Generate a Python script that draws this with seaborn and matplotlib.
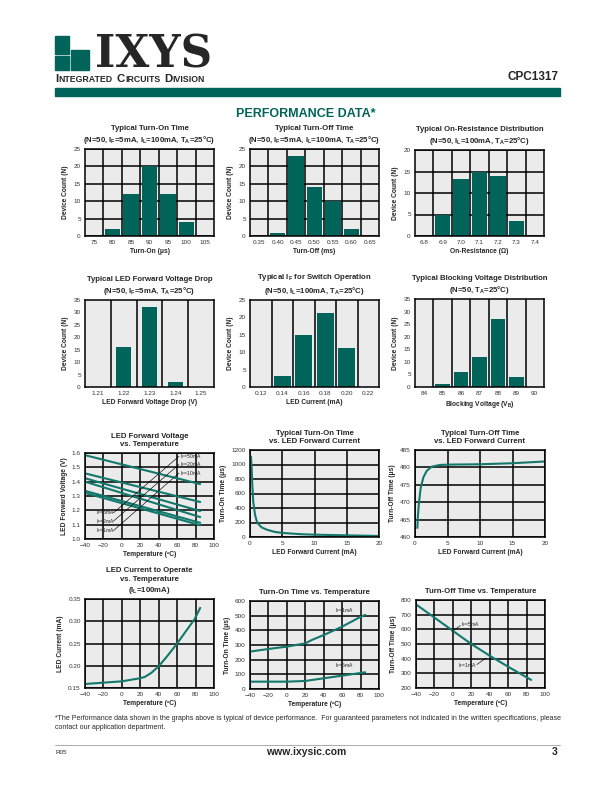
import numpy as np
import pandas as pd
import matplotlib
matplotlib.use("Agg")
import matplotlib.pyplot as plt
import seaborn as sns

sns.set_style("white")
plt.rcParams["font.family"] = ["Liberation Sans", "DejaVu Sans"]
plt.rcParams["mathtext.fontset"] = "custom"
plt.rcParams["mathtext.rm"] = "Liberation Sans"
plt.rcParams["mathtext.bf"] = "Liberation Sans:bold"

TEAL_BAR = "#00645a"
TEAL_LINE = "#12786c"
BG = "#ebebeb"
W, H = 612, 792

# ---------------- data ----------------
ton_bins = ["75", "80", "85", "90", "95", "100", "105"]
ton_count = [0, 2, 12, 20, 12, 4, 0]

toff_bins = ["0.35", "0.40", "0.45", "0.50", "0.55", "0.60", "0.65"]
toff_count = [0, 1, 23, 14, 10, 2, 0]

ron_bins = ["6.8", "6.9", "7.0", "7.1", "7.2", "7.3", "7.4"]
ron_count = [0, 5, 13.3, 15, 14, 3.6, 0]

vf_bins = ["1.21", "1.22", "1.23", "1.24", "1.25"]
vf_count = [0, 16, 32, 2, 0]

ifop_bins = ["0.12", "0.14", "0.16", "0.18", "0.20", "0.22"]
ifop_count = [0, 3.2, 15, 21.2, 11.2, 0]

vb_bins = ["84", "85", "86", "87", "88", "89", "90"]
vb_count = [0, 1.2, 6, 12, 27, 4, 0]

# LED forward voltage vs temperature (straight lines, -40C and 85C)
vf_temp = [-40, 85]
vf_50ma = [1.585, 1.383]
vf_20ma = [1.458, 1.258]
vf_10ma = [1.424, 1.195]
vf_5ma = [1.400, 1.153]
vf_2ma = [1.336, 1.113]
vf_1ma = [1.322, 1.096]

# turn-on time vs LED current
ton_if = [0.15, 0.26, 0.36, 0.5, 0.78, 1.03, 1.3, 1.8, 2.6, 3.9, 5.2, 8, 10, 15, 20]
ton_us = [1108, 948, 719, 490, 307, 224, 179, 133, 101, 69, 55, 38, 32, 23, 14]

# turn-off time vs LED current
toff_if = [0.36, 0.46, 0.6, 0.87, 1.28, 1.8, 2.56, 3.85, 5.1, 10, 15, 20]
toff_us = [462.6, 466.4, 469.7, 474.0, 477.1, 479.0, 480.2, 480.7, 480.8, 480.9, 481.2, 481.7]

# LED current to operate vs temperature
iop_temp = [-40, 0, 20, 25, 32, 40, 49, 60, 70, 79, 85]
iop_ma = [0.159, 0.165, 0.172, 0.175, 0.184, 0.199, 0.221, 0.250, 0.279, 0.305, 0.330]

# turn-on time vs temperature
tont_temp = [-40, -20, 0, 20, 27, 40, 60, 79, 85]
tont_1ma = [255, 273, 289, 311, 334, 368, 425, 489, 505]
tont_temp5 = [-40, 0, 20, 40, 60, 85]
tont_5ma = [50, 50, 55, 73, 91, 114]

# turn-off time vs temperature
tofft_temp = [-40, -20, 0, 20, 40, 60, 85]
tofft_us = [770, 680, 590, 500, 420, 345, 255]


fig = plt.figure(figsize=(W / 100, H / 100), dpi=100)


def add_ax(x0, y0, x1, y1):
    return fig.add_axes([x0 / W, 1 - y1 / H, (x1 - x0) / W, (y1 - y0) / H])


def style(ax):
    ax.set_facecolor(BG)
    for s in ax.spines.values():
        s.set_color("black")
        s.set_linewidth(1.1)
        s.set_zorder(3)
    ax.tick_params(axis="both", labelsize=4.6, length=0, pad=3, labelcolor="#333333")
    ax.tick_params(axis="y", which="minor", direction="in", length=2, width=0.6)


def hist(ax, bins, counts, ymax, ystep, width, hgrid, title, xlabel):
    sns.barplot(x=bins, y=counts, ax=ax, color=TEAL_BAR, saturation=1,
                width=width, edgecolor="none")
    for p in ax.patches:
        p.set_zorder(2)
    n = len(bins)
    ax.set_xlim(-0.5, n - 0.5)
    ax.set_ylim(0, ymax)
    ax.set_yticks(np.arange(0, ymax + 0.1, ystep))
    ax.set_xticks(np.arange(0.5, n - 1, 1), minor=True)
    ax.grid(True, which="minor", axis="x", color="black", lw=1.1)
    if hgrid:
        ax.grid(True, which="major", axis="y", color="black", lw=1.1)
    ax.set_axisbelow(True)
    style(ax)
    ax.set_title(title, fontsize=5.6, fontweight="bold", pad=5, linespacing=1.3)
    ax.set_xlabel(xlabel, fontsize=4.8, fontweight="bold", labelpad=2)
    ax.set_ylabel("Device Count (N)", fontsize=4.8, fontweight="bold", labelpad=3)


def curve(ax, xlim, xstep, ylim, ystep, title, xlabel, ylabel, fmt=None, minor=None):
    ax.set_xlim(*xlim)
    ax.set_ylim(*ylim)
    ax.set_xticks(np.arange(xlim[0], xlim[1] + 1e-9, xstep))
    ax.set_yticks(np.arange(ylim[0], ylim[1] + 1e-9, ystep))
    if minor:
        ax.set_yticks(np.arange(ylim[0], ylim[1] + 1e-9, minor), minor=True)
    if fmt:
        ax.set_yticklabels([fmt.format(v) for v in np.arange(ylim[0], ylim[1] + 1e-9, ystep)])
    ax.grid(True, which="major", color="black", lw=1.1)
    ax.set_axisbelow(True)
    style(ax)
    ax.set_title(title, fontsize=5.6, fontweight="bold", pad=5, linespacing=1.3)
    ax.set_xlabel(xlabel, fontsize=4.8, fontweight="bold", labelpad=2)
    ax.set_ylabel(ylabel, fontsize=4.8, fontweight="bold", labelpad=3)


cols = [(85, 214), (250, 379), (415, 544)]
lab = dict(fontsize=3.6, color="#222222", va="center")

# ---------------- row 1 ----------------
ax = add_ax(cols[0][0], 149, cols[0][1], 236)
hist(ax, ton_bins, ton_count, 25, 5, 0.85, True,
     "Typical Turn-On Time\n(N=50, I$_\\mathregular{F}$=5mA, I$_\\mathregular{L}$=100mA, T$_\\mathregular{A}$=25°C)",
     "Turn-On (μs)")

ax = add_ax(cols[1][0], 149, cols[1][1], 236)
hist(ax, toff_bins, toff_count, 25, 5, 0.85, True,
     "Typical Turn-Off Time\n(N=50, I$_\\mathregular{F}$=5mA, I$_\\mathregular{L}$=100mA, T$_\\mathregular{A}$=25°C)",
     "Turn-Off (ms)")

ax = add_ax(cols[2][0], 150, cols[2][1], 236)
hist(ax, ron_bins, ron_count, 20, 5, 0.85, True,
     "Typical On-Resistance Distribution\n(N=50, I$_\\mathregular{L}$=100mA, T$_\\mathregular{A}$=25°C)",
     "On-Resistance (Ω)")

# ---------------- row 2 ----------------
ax = add_ax(cols[0][0], 300, cols[0][1], 387)
hist(ax, vf_bins, vf_count, 35, 5, 0.58, False,
     "Typical LED Forward Voltage Drop\n(N=50, I$_\\mathregular{F}$=5mA, T$_\\mathregular{A}$=25°C)",
     "LED Forward Voltage Drop (V)")

ax = add_ax(cols[1][0], 300, cols[1][1], 387)
hist(ax, ifop_bins, ifop_count, 25, 5, 0.8, False,
     "Typical I$_\\mathregular{F}$ for Switch Operation\n(N=50, I$_\\mathregular{L}$=100mA, T$_\\mathregular{A}$=25°C)",
     "LED Current (mA)")
ax.set_yticks(np.arange(2.5, 25, 5), minor=True)

ax = add_ax(cols[2][0], 299, cols[2][1], 387)
hist(ax, vb_bins, vb_count, 35, 5, 0.8, False,
     "Typical Blocking Voltage Distribution\n(N=50, T$_\\mathregular{A}$=25°C)",
     "Blocking Voltage (V$_\\mathregular{B}$)")

# ---------------- row 3 ----------------
ax = add_ax(cols[0][0], 453, cols[0][1], 539)
for ys in [vf_50ma, vf_20ma, vf_10ma, vf_5ma, vf_2ma, vf_1ma]:
    sns.lineplot(x=vf_temp, y=ys, ax=ax, color=TEAL_LINE, lw=1.5)
curve(ax, (-40, 100), 20, (1.0, 1.6), 0.1, "LED Forward Voltage\nvs. Temperature",
      "Temperature (ºC)", "LED Forward Voltage (V)", fmt="{:.1f}")
for txt, y in [("50", 1.577), ("20", 1.52), ("10", 1.46)]:
    ax.text(63, y, "I$_\\mathregular{F}$=" + txt + "mA", **lab)
for txt, y in [("5", 1.183), ("2", 1.125), ("1", 1.059)]:
    ax.text(-28, y, "I$_\\mathregular{F}$=" + txt + "mA", **lab)
for (ya, yb) in [(1.183, 1.577), (1.125, 1.52), (1.059, 1.46)]:
    ax.plot([-9, 62], [ya, yb], color="black", lw=0.45)

ax = add_ax(cols[1][0], 450, cols[1][1], 537)
sns.lineplot(x=ton_if, y=ton_us, ax=ax, color=TEAL_LINE, lw=1.5)
curve(ax, (0, 20), 5, (0, 1200), 200, "Typical Turn-On Time\nvs. LED Forward Current",
      "LED Forward Current (mA)", "Turn-On Time (μs)", minor=100)

ax = add_ax(cols[2][0], 450, 545, 537)
sns.lineplot(x=toff_if, y=toff_us, ax=ax, color=TEAL_LINE, lw=1.5)
curve(ax, (0, 20), 5, (460, 485), 5, "Typical Turn-Off Time\nvs. LED Forward Current",
      "LED Forward Current (mA)", "Turn-Off Time (μs)", minor=2.5)

# ---------------- row 4 ----------------
ax = add_ax(cols[0][0], 599, cols[0][1], 688)
sns.lineplot(x=iop_temp, y=iop_ma, ax=ax, color=TEAL_LINE, lw=1.5)
curve(ax, (-40, 100), 20, (0.15, 0.35), 0.05,
      "LED Current to Operate\nvs. Temperature\n(I$_\\mathregular{L}$=100mA)",
      "Temperature (ºC)", "LED Current (mA)", fmt="{:.2f}", minor=0.025)

ax = add_ax(cols[1][0], 601, cols[1][1], 689)
sns.lineplot(x=tont_temp, y=tont_1ma, ax=ax, color=TEAL_LINE, lw=1.5)
sns.lineplot(x=tont_temp5, y=tont_5ma, ax=ax, color=TEAL_LINE, lw=1.5)
curve(ax, (-40, 100), 20, (0, 600), 100, "Turn-On Time vs. Temperature",
      "Temperature (ºC)", "Turn-On Time (μs)", minor=50)
ax.text(52, 535, "I$_\\mathregular{F}$=1mA", **lab)
ax.text(52, 160, "I$_\\mathregular{F}$=5mA", **lab)

ax = add_ax(416, 600, 545, 688)
sns.lineplot(x=tofft_temp, y=tofft_us, ax=ax, color=TEAL_LINE, lw=1.5)
curve(ax, (-40, 100), 20, (200, 800), 100, "Turn-Off Time vs. Temperature",
      "Temperature (ºC)", "Turn-Off Time (μs)", minor=50)
ax.text(9, 632, "I$_\\mathregular{F}$=5mA", **lab)
ax.plot([8, -1], [625, 585], color="black", lw=0.45)
ax.text(6, 352, "I$_\\mathregular{F}$=1mA", **lab)
ax.plot([26, 36], [360, 404], color="black", lw=0.45)

# ---------------- page header / footer ----------------
tf = fig.transFigure
fig.patches.append(plt.Rectangle((55 / W, 1 - 70 / H), 14 / W, 14 / H, color=TEAL_BAR, transform=tf))
fig.patches.append(plt.Rectangle((71 / W, 1 - 70 / H), 18 / W, 20 / H, color=TEAL_BAR, transform=tf))
fig.patches.append(plt.Rectangle((55 / W, 1 - 54 / H), 14 / W, 18 / H, color=TEAL_BAR, transform=tf))
fig.text(95 / W, 1 - 68 / H, "IXYS", fontsize=31.5, fontweight="bold", family="DejaVu Serif", va="baseline")

# small-caps division name: measure each piece and place the next one after it
renderer = fig.canvas.get_renderer()
base_y = 1 - 82 / H
x_px = 55.0
for piece, size, gap in [("I", 8.2, 0), ("NTEGRATED", 6.3, 0.2), ("C", 8.2, 4.0), ("IRCUITS", 6.3, 0.2),
                         ("D", 8.2, 4.0), ("IVISION", 6.3, 0.2)]:
    x_px += gap
    t = fig.text(x_px / W, base_y, piece, fontsize=size, fontweight="bold", va="baseline")
    x_px += t.get_window_extent(renderer).width

fig.patches.append(plt.Rectangle((55 / W, 1 - 96 / H), 505 / W, 8 / H, color=TEAL_BAR, transform=tf))
fig.text(558 / W, 1 - 80 / H, "CPC1317", fontsize=8.5, fontweight="bold", ha="right", va="baseline")
fig.text(306 / W, 1 - 117 / H, "PERFORMANCE DATA*", fontsize=9, fontweight="bold",
         color=TEAL_BAR, ha="center", va="baseline")

fig.text(55 / W, 1 - 729 / H,
         "*The Performance data shown in the graphs above is typical of device performance.  For guaranteed parameters not indicated in the written specifications, please\ncontact our application department.",
         fontsize=5.0, va="baseline", linespacing=1.45)
fig.add_artist(plt.Line2D([55 / W, 560 / W], [1 - 745 / H, 1 - 745 / H], color="#888888", lw=0.5))
fig.text(55 / W, 1 - 754 / H, "R05", fontsize=4.5, va="baseline")
fig.text(306 / W, 1 - 755 / H, "www.ixysic.com", fontsize=7.5, fontweight="bold", ha="center", va="baseline")
fig.text(558 / W, 1 - 755 / H, "3", fontsize=7.5, fontweight="bold", ha="right", va="baseline")

fig.savefig("out.png", dpi=100)
